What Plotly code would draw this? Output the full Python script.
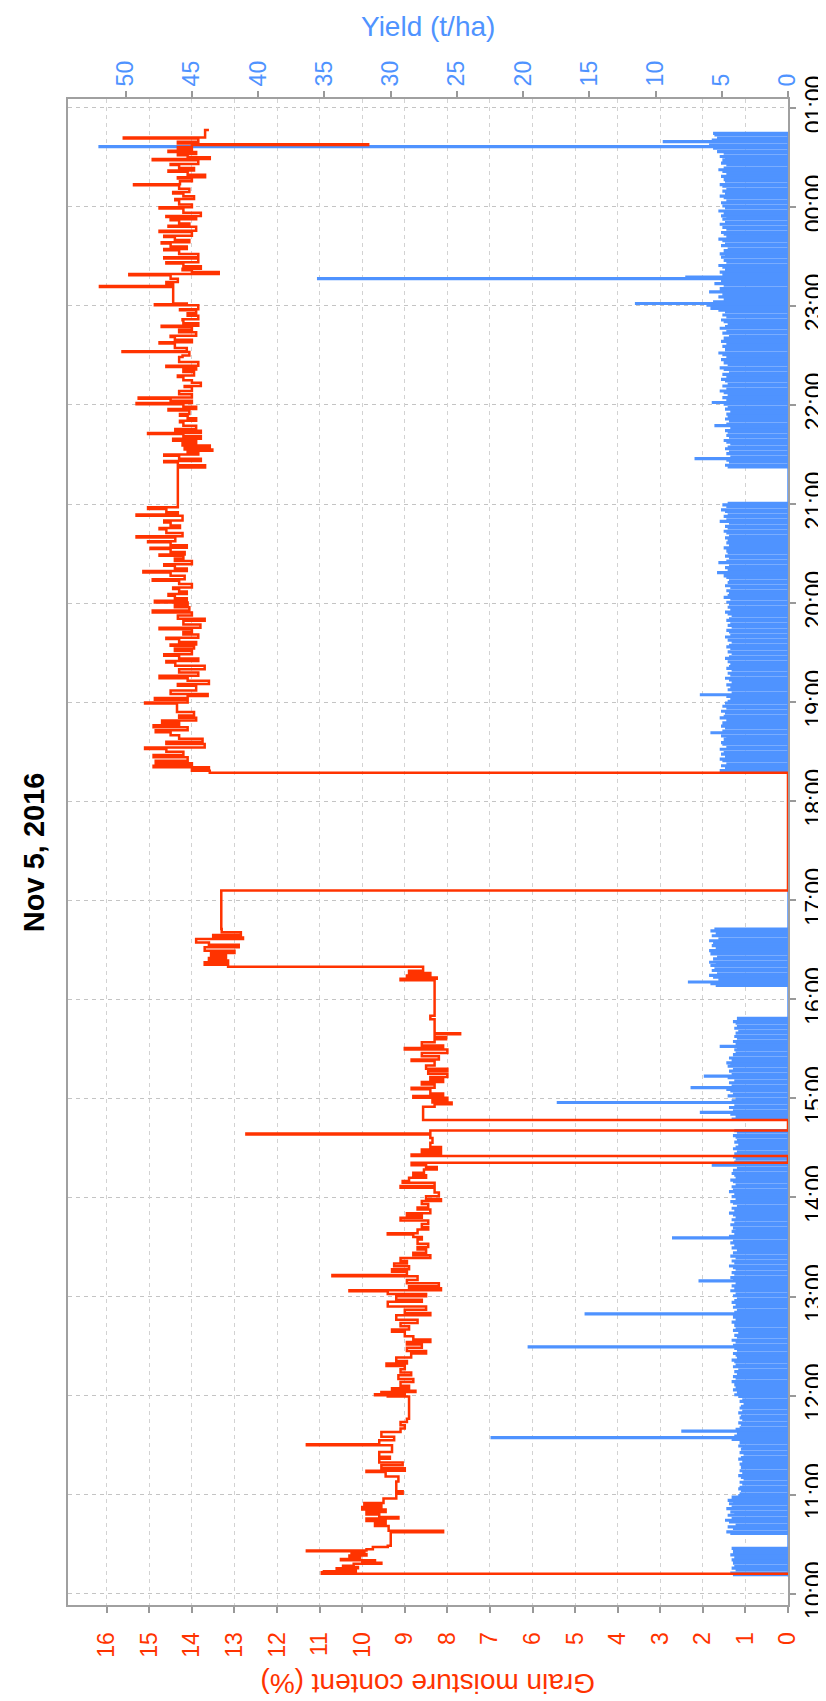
import pandas as pd
import plotly.graph_objects as go

BASE = pd.Timestamp("2016-11-05 10:00:00")

# ---------------- Grain moisture content (%) : (minutes after 10:00, value) ----------------
moisture_1000_1300 = [
    (11.5, 0.0), (12.1, 10.95), (13.0, 10.9), (13.6, 10.15), (14.5, 10.6), (15.5, 10.1), (16.2, 10.45),
    (17.0, 10.2), (18.2, 9.55), (18.8, 10.0), (19.5, 9.7), (20.2, 10.5), (21.0, 10.05), (22.0, 10.3),
    (23.2, 9.9), (24.0, 10.25), (25.0, 9.95), (25.7, 11.3), (26.2, 9.9), (27.0, 9.75), (28.3, 9.4),
    (29.0, 9.33), (37.2, 8.1), (38.2, 9.38), (41.0, 9.7), (42.5, 9.45), (44.0, 9.9), (45.5, 9.15),
    (46.5, 9.6), (48.0, 9.9), (49.5, 9.45), (51.0, 10.0), (52.5, 9.55), (53.5, 9.95), (55.0, 9.5),
    (57.6, 9.2), (60.6, 9.05), (62.0, 9.2), (68.0, 9.15), (71.0, 9.45), (73.7, 9.9), (74.5, 9.0),
    (76.0, 9.55), (77.8, 9.05), (79.5, 9.6), (81.8, 9.35), (83.0, 9.6), (85.9, 9.3), (89.9, 11.3),
    (90.5, 9.6), (92.9, 9.25), (95.0, 9.55), (98.0, 9.1), (100.0, 9.0), (102.0, 9.1), (104.0, 8.95),
    (106.0, 8.9), (119.5, 9.4), (120.2, 9.7), (120.8, 9.0), (121.5, 9.55), (122.2, 8.75), (123.0, 9.3),
    (124.5, 8.9), (126.0, 9.1), (128.3, 8.8), (130.0, 9.15), (132.3, 8.85), (134.0, 9.1), (136.0, 9.0),
    (138.0, 9.43), (139.4, 8.95), (141.0, 9.2), (143.0, 8.85), (145.5, 8.5), (147.0, 8.95), (149.0, 8.6),
    (151.0, 8.95), (152.5, 8.4), (154.0, 8.8), (156.0, 9.0), (158.6, 9.3), (160.0, 8.9), (162.0, 9.1),
    (164.0, 8.7), (166.0, 9.2), (168.7, 8.4), (170.0, 9.0), (172.0, 8.5), (174.0, 9.4), (176.8, 8.6),
    (178.0, 9.2),
]
moisture_1300_1600 = [
    (180.2, 8.5), (181.5, 9.4), (183.2, 10.3), (183.8, 8.15), (185.0, 8.9), (186.3, 8.2), (188.0, 8.95),
    (190.0, 8.7), (192.3, 10.7), (193.0, 8.95), (195.0, 9.3), (196.5, 8.9), (198.4, 9.25), (200.0, 8.95),
    (201.5, 9.1), (203.4, 8.4), (205.0, 8.8), (206.5, 8.5), (208.5, 8.7), (210.0, 8.45), (212.0, 8.7),
    (214.5, 8.6), (216.0, 8.8), (217.6, 9.4), (218.3, 8.7), (220.6, 8.45), (222.0, 8.6), (224.0, 8.45),
    (226.0, 9.1), (227.7, 8.6), (229.0, 8.95), (230.5, 8.4), (232.7, 8.7), (234.0, 8.45), (236.0, 8.6),
    (237.8, 8.15), (239.0, 8.5), (240.8, 8.2), (243.0, 8.3), (245.9, 9.1), (247.0, 8.3), (248.9, 9.05),
    (250.0, 8.9), (251.9, 8.5), (253.5, 8.8), (255.0, 8.55), (257.0, 8.25), (258.5, 8.5), (259.5, 8.84),
    (261.0, 0.0), (265.1, 8.84), (266.1, 8.15), (267.5, 8.6), (269.1, 8.15), (270.5, 8.4), (273.1, 8.35),
    (276.0, 8.4), (278.2, 12.72), (278.8, 8.4), (280.6, 0.0), (286.9, 8.57), (295.0, 8.3), (296.4, 7.9),
    (297.5, 8.35), (299.0, 8.0), (300.4, 8.8), (301.5, 8.1), (303.0, 8.4), (305.5, 8.84), (306.5, 8.3),
    (308.5, 8.6), (310.0, 8.1), (311.5, 8.4), (313.0, 8.0), (315.0, 8.45), (316.6, 8.0), (318.0, 8.5),
    (320.0, 8.3), (322.6, 8.84), (323.5, 8.2), (325.5, 8.6), (327.5, 8.0), (329.7, 9.0), (330.5, 8.1),
    (332.0, 8.6), (334.0, 8.3), (335.8, 8.03), (337.0, 8.3), (338.8, 7.7), (339.5, 8.3), (348.0, 8.4),
    (350.0, 8.3),
]
moisture_1600_1900 = [
    (371.5, 9.1), (372.5, 8.25), (373.3, 8.95), (374.5, 8.4), (376.0, 8.9), (377.4, 8.57), (379.8, 13.15),
    (381.0, 13.7), (382.4, 13.15), (383.5, 13.6), (385.0, 13.2), (386.5, 13.55), (388.0, 13.0), (389.5, 13.7),
    (391.5, 12.9), (393.0, 13.6), (394.5, 13.9), (396.6, 12.8), (397.5, 13.5), (399.0, 12.85), (400.6, 13.3),
    (402.6, 13.31), (425.9, 0.0), (497.2, 13.58), (498.5, 14.0), (499.6, 13.6), (500.6, 14.9), (501.5, 14.0),
    (503.0, 14.85), (504.5, 14.1), (506.7, 14.9), (508.0, 14.2), (510.0, 14.6), (511.7, 15.1), (512.5, 13.7),
    (514.7, 14.6), (516.0, 13.75), (517.8, 14.3), (520.0, 14.5), (521.8, 14.85), (523.0, 14.1), (524.8, 14.9),
    (526.0, 14.3), (527.5, 14.7), (528.9, 13.9), (530.5, 14.3), (531.9, 13.95), (534.0, 14.35),
    (539.2, 15.1), (539.8, 14.1),
]
moisture_1900_2200 = [
    (541.5, 14.87), (542.5, 14.1), (543.8, 13.63), (545.0, 14.5), (547.0, 13.9), (549.9, 14.33), (551.0, 13.6),
    (553.0, 14.1), (554.5, 14.76), (556.0, 13.85), (558.0, 14.3), (560.0, 13.7), (562.0, 14.39), (564.0, 14.6),
    (565.0, 13.85), (566.5, 14.3), (568.1, 14.65), (569.0, 14.0), (571.0, 14.4), (572.5, 13.95), (574.1, 14.5),
    (575.0, 13.9), (576.5, 14.3), (578.2, 14.6), (579.0, 13.85), (581.0, 14.2), (582.5, 14.0), (584.2, 14.76),
    (585.0, 13.8), (587.0, 14.2), (589.3, 13.7), (590.5, 14.33), (592.5, 14.0), (594.3, 14.92), (595.5, 14.06),
    (597.5, 14.4), (599.0, 14.1), (600.4, 14.87), (601.5, 14.12), (603.0, 14.4), (604.4, 14.55), (605.5, 14.12),
    (607.0, 14.3), (608.5, 14.44), (609.5, 14.0), (611.5, 14.3), (613.5, 14.92), (614.5, 14.17), (616.5, 14.5),
    (618.6, 15.14), (619.5, 14.12), (621.0, 14.4), (622.6, 14.65), (623.5, 14.0), (625.5, 14.4), (627.0, 14.2),
    (628.7, 14.76), (629.5, 14.17), (631.0, 14.5), (632.7, 14.97), (633.5, 14.12), (635.0, 14.5), (636.8, 15.03),
    (637.5, 14.39), (639.8, 15.3), (640.5, 14.22), (642.5, 14.6), (644.8, 14.76), (645.5, 14.28), (647.0, 14.5),
    (648.9, 14.65), (650.0, 14.22), (652.9, 15.3), (653.6, 14.33), (655.0, 14.6), (657.0, 15.03), (658.0, 14.33),
    (682.2, 13.69), (683.5, 14.33), (685.3, 14.65), (686.0, 13.79), (687.5, 14.3), (689.3, 14.65), (690.0, 13.85),
    (691.0, 14.1), (692.3, 13.52), (693.0, 14.17), (694.3, 13.58), (695.5, 14.22), (697.0, 13.9), (698.4, 14.44),
    (699.5, 13.79), (701.0, 14.2), (702.4, 15.03), (703.0, 13.79), (704.4, 14.39), (705.5, 13.9), (707.5, 14.2),
    (709.5, 14.28), (710.5, 13.9), (712.0, 14.1), (713.5, 14.28), (714.5, 14.06), (716.6, 14.55), (717.5, 13.9),
    (719.0, 14.2),
]
moisture_2200_0100 = [
    (720.5, 15.3), (721.2, 14.0), (722.5, 14.5), (723.8, 15.25), (724.5, 14.0), (726.5, 14.3), (728.5, 14.0),
    (730.9, 14.17), (731.5, 13.79), (733.5, 14.0), (735.0, 14.2), (737.0, 14.33), (737.8, 13.95), (740.0, 14.2),
    (741.5, 13.9), (743.0, 14.6), (743.8, 13.85), (746.0, 14.3), (749.1, 14.22), (750.0, 14.06), (752.1, 15.63),
    (752.6, 14.12), (754.5, 14.4), (757.2, 14.76), (758.0, 14.0), (759.5, 14.4), (761.2, 14.5), (762.0, 13.9),
    (764.0, 14.3), (765.5, 14.0), (767.3, 14.71), (768.0, 13.85), (769.5, 14.2), (771.3, 14.22), (772.0, 13.85),
    (774.0, 14.1), (775.5, 13.9), (777.4, 14.28), (778.0, 13.85), (780.4, 14.87), (781.0, 14.12), (781.4, 14.44),
    (791.5, 16.16), (792.0, 14.44), (793.5, 14.6), (794.5, 14.33), (796.5, 14.5), (798.6, 15.47), (799.3, 13.37),
    (800.5, 14.0), (801.6, 14.22), (802.5, 13.79), (804.0, 14.2), (805.7, 14.6), (806.5, 13.85), (808.7, 14.65),
    (809.5, 13.85), (811.5, 14.3), (813.7, 14.65), (814.5, 14.12), (816.0, 14.5), (817.8, 14.71), (818.5, 14.06),
    (820.0, 14.4), (821.8, 14.65), (822.5, 14.0), (824.8, 14.76), (825.5, 13.9), (827.9, 14.55), (828.5, 14.06),
    (830.0, 14.3), (831.9, 14.5), (832.5, 13.9), (833.9, 14.6), (834.5, 13.79), (836.5, 14.2), (839.0, 14.76),
    (839.7, 14.0), (841.5, 14.3), (844.0, 14.39), (844.8, 13.95), (846.5, 14.2), (848.1, 14.44), (849.0, 14.06),
    (851.0, 14.3), (853.1, 15.36), (853.7, 14.28), (855.5, 14.0), (857.2, 14.33), (858.0, 13.69), (859.5, 14.1),
    (861.2, 14.55), (862.0, 13.95), (863.5, 14.3), (865.3, 14.5), (866.0, 13.85), (868.3, 14.92), (869.0, 13.58),
    (870.0, 14.1), (871.3, 14.33), (872.0, 13.9), (873.3, 14.55), (874.0, 14.0), (875.4, 14.33), (876.2, 14.0),
    (877.4, 9.86), (877.9, 13.85), (878.4, 14.33), (879.5, 13.85), (881.4, 15.6), (882.0, 13.69), (883.4, 13.69),
    (886.5, 13.6),
]

# ---------------- Yield (t/ha) : one value per minute, blocks start at given minute after 10:00 ----------------
yield_start_minutes = [11, 36, 287, 368, 497, 682]
yield_1011 = [4.1, 4.3, 0, 3.9, 4.2, 4.0, 0, 4.1, 3.8, 4.2, 0, 4.0, 4.3, 0, 4.1, 3.9, 4.2, 0]
yield_1036 = [
    4.3, 4.6, 0, 4.1, 4.5, 3.9, 0, 4.4, 4.7, 4.2,
    0, 4.5, 4.0, 4.3, 0, 4.6, 4.2, 0, 4.4, 4.1,
    4.5, 0, 4.2, 3.7, 3.6, 0, 3.5, 3.7, 3.6, 0,
    3.4, 3.6, 0, 3.3, 3.5, 3.7, 0, 3.4, 3.6, 0,
    3.5, 3.3, 3.6, 0, 3.4, 3.7, 3.5, 0, 3.3, 3.6,
    0, 3.5, 3.4, 3.7, 0, 3.6, 3.3, 4.2, 22.4, 4.0,
    3.8, 0, 8.0, 3.9, 3.6, 0, 3.5, 3.7, 0, 3.4,
    3.6, 3.5, 0, 3.7, 3.4, 0, 3.6, 3.5, 3.3, 0,
    3.6, 3.4, 0, 3.7, 4.0, 3.8, 0, 4.1, 3.9, 0,
    4.0, 3.7, 4.2, 0, 3.9, 4.1, 0, 3.8, 4.0, 3.7,
    0, 4.1, 3.9, 0, 4.0, 4.2, 3.8, 0, 3.9, 4.1,
    0, 3.8, 4.0, 19.6, 4.1, 0, 3.9, 4.2, 0, 3.8,
    4.0, 3.7, 0, 4.1, 3.9, 0, 4.0, 3.8, 4.2, 0,
    3.9, 4.1, 0, 15.3, 4.0, 3.8, 0, 4.1, 3.9, 0,
    4.2, 4.0, 3.8, 0, 4.1, 3.9, 0, 4.3, 4.0, 0,
    4.2, 3.9, 0, 6.7, 4.1, 4.3, 0, 4.0, 4.2, 0,
    3.9, 4.1, 4.4, 0, 4.0, 4.2, 0, 3.9, 4.3, 0,
    4.1, 3.8, 0, 4.2, 4.0, 0, 4.3, 4.1, 0, 8.7,
    4.4, 4.0, 0, 4.2, 3.9, 4.1, 0, 4.3, 4.0, 0,
    4.2, 3.9, 0, 4.1, 4.4, 0, 4.0, 4.2, 3.8, 0,
    4.1, 4.3, 0, 3.9, 4.2, 0, 4.0, 4.4, 4.1, 0,
    4.2, 3.9, 0, 4.1, 4.3, 0, 3.9, 4.0, 4.2, 0,
    4.1, 3.8, 0, 5.7, 4.2, 4.0, 0, 3.9, 4.1, 0,
    4.0, 3.8, 0, 4.1, 3.9, 0, 3.7, 4.0, 3.8, 0,
    3.9, 4.1, 0, 3.8, 4.0,
]
yield_1447 = [
    4.2, 3.9, 0, 4.3, 6.6, 4.1, 0, 4.4, 4.0, 0,
    17.4, 4.2, 3.9, 0, 4.5, 4.1, 0, 4.3, 4.6, 7.3,
    4.2, 0, 4.4, 4.0, 0, 4.5, 6.3, 4.2, 0, 4.4,
    4.1, 0, 4.5, 4.3, 4.6, 0, 4.2, 4.4, 0, 4.1,
    3.9, 0, 4.0, 3.8, 5.1, 0, 3.9, 4.1, 0, 3.8,
    4.0, 0, 3.9, 3.7, 0, 4.0, 3.8, 0, 3.9, 4.1,
    0, 3.8,
]
yield_1608 = [
    5.4, 5.8, 7.5, 5.2, 0, 5.6, 5.9, 5.3, 0, 5.7,
    5.5, 0, 5.8, 5.4, 5.9, 0, 5.6, 5.3, 0, 5.8,
    5.5, 5.9, 0, 5.4, 5.7, 0, 5.6, 5.9, 5.2, 0,
    5.7, 5.4, 0, 5.8, 5.5,
]
yield_1817 = [
    4.8, 5.1, 0, 4.7, 5.0, 4.6, 0, 4.9, 5.1, 0,
    4.7, 5.0, 4.8, 0, 5.1, 4.6, 0, 4.9, 5.0, 0,
    4.8, 4.6, 5.0, 0, 5.8, 4.9, 0, 4.7, 5.0, 0,
    4.9, 4.6, 0, 5.1, 4.8, 0, 4.7, 5.0, 0, 4.6,
    4.9, 0, 4.7, 4.5, 4.3, 0, 4.6, 6.6, 4.2, 0,
    4.5, 4.3, 0, 4.6, 4.2, 0, 4.4, 4.7, 0, 4.3,
    4.5, 0, 4.2, 4.6, 4.4, 0, 4.3, 4.5, 0, 4.7,
    4.4, 0, 4.2, 4.5, 0, 4.3, 4.6, 4.4, 0, 4.2,
    4.5, 0, 4.7, 4.3, 0, 4.4, 4.6, 0, 4.2, 4.5,
    4.3, 0, 4.6, 4.4, 0, 4.2, 4.5, 4.7, 0, 4.3,
    4.5, 0, 4.4, 4.6, 0, 4.3, 4.8, 4.5, 0, 4.4,
    4.6, 0, 4.3, 4.7, 0, 4.5, 4.4, 0, 4.6, 4.8,
    0, 5.3, 4.5, 0, 4.7, 4.4, 0, 5.2, 4.6, 0,
    4.4, 4.7, 0, 4.5, 4.6, 0, 4.8, 4.4, 0, 4.6,
    4.5, 0, 4.7, 4.4, 0, 4.6, 4.8, 0, 4.5, 4.7,
    0, 4.4, 5.1, 4.6, 0, 4.8, 4.5, 0, 4.7, 5.0,
    0, 4.6, 4.9, 4.5,
]
yield_2122 = [
    4.5, 4.7, 0, 4.4, 4.6, 7.0, 4.3, 0, 4.6, 4.4,
    0, 4.7, 4.5, 0, 4.3, 4.6, 4.8, 0, 4.4, 4.6,
    0, 4.5, 4.7, 4.3, 0, 5.5, 4.6, 0, 4.4, 4.7,
    4.5, 0, 4.6, 4.3, 0, 4.7, 4.5, 0, 4.8, 5.7,
    4.6, 0, 4.9, 4.5, 0, 4.8, 5.1, 4.6, 0, 4.9,
    4.5, 0, 4.7, 5.0, 0, 4.6, 4.9, 4.4, 0, 4.8,
    5.1, 0, 4.5, 4.8, 0, 5.0, 4.6, 0, 4.9, 5.2,
    0, 4.7, 4.5, 4.9, 0, 4.6, 5.0, 0, 4.8, 4.4,
    0, 4.9, 4.6, 0, 5.1, 4.7, 4.5, 0, 4.8, 5.0,
    0, 4.6, 4.9, 0, 4.7, 5.2, 5.8, 0, 6.1, 11.5,
    5.6, 4.8, 0, 5.2, 4.9, 0, 5.9, 4.7, 5.1, 0,
    4.8, 5.5, 0, 5.0, 35.5, 7.7, 4.9, 0, 5.1, 4.7,
    0, 4.9, 5.2, 0, 4.6, 4.8, 0, 5.0, 4.7, 5.1,
    0, 4.8, 4.5, 0, 5.0, 4.7, 0, 4.9, 5.2, 4.6,
    0, 4.8, 5.0, 0, 4.6, 4.9, 0, 5.1, 4.7, 0,
    4.9, 4.6, 5.0, 0, 4.8, 5.2, 0, 4.7, 4.9, 0,
    5.0, 4.6, 0, 4.8, 5.1, 0, 4.7, 4.9, 4.6, 0,
    4.9, 5.1, 0, 4.7, 4.8, 0, 5.0, 4.6, 0, 4.9,
    5.2, 4.8, 0, 4.6, 5.0, 0, 4.9, 4.7, 5.1, 0,
    4.8, 5.3, 0, 5.6, 52.0, 5.9, 0, 9.4, 5.7, 5.3,
    0, 5.5, 5.6,
]
yield_blocks = [yield_1011, yield_1036, yield_1447, yield_1608, yield_1817, yield_2122]

time_ticks = ["10:00", "11:00", "12:00", "13:00", "14:00", "15:00", "16:00", "17:00",
              "18:00", "19:00", "20:00", "21:00", "22:00", "23:00", "00:00", "01:00"]

RED = "#ff3300"
BLUE = "#4f93ff"
FONT = "Liberation Sans, Arial, sans-serif"


def to_time(minutes):
    return [(BASE + pd.Timedelta(minutes=float(m))).strftime("%Y-%m-%d %H:%M:%S") for m in minutes]


# assemble moisture series
m_pts = moisture_1000_1300 + moisture_1300_1600 + moisture_1600_1900 + moisture_1900_2200 + moisture_2200_0100
m_t = [p[0] for p in m_pts]
m_v = [p[1] for p in m_pts]

# assemble yield series
y_t, y_v = [10.5], [0.0]
for start, vals in zip(yield_start_minutes, yield_blocks):
    for i, v in enumerate(vals):
        y_t.append(start + i)
        y_v.append(v)
    y_t.append(start + len(vals))
    y_v.append(0.0)

fig = go.Figure()
fig.add_trace(go.Scatter(
    x=y_v, y=to_time(y_t), xaxis="x", yaxis="y", mode="lines",
    line=dict(color=BLUE, width=1.5, shape="vh"), fill="tozerox", fillcolor=BLUE,
    name="Yield", showlegend=False, hoverinfo="skip"))
fig.add_trace(go.Scatter(
    x=m_v, y=to_time(m_t), xaxis="x2", yaxis="y", mode="lines",
    line=dict(color=RED, width=2.5, shape="vh"),
    name="Grain moisture", showlegend=False, hoverinfo="skip"))

tick_vals = [(BASE + pd.Timedelta(hours=h)).strftime("%Y-%m-%d %H:%M:%S") for h in range(len(time_ticks))]

fig.update_layout(
    width=826, height=1701,
    margin=dict(l=60, r=46, t=91, b=104),
    paper_bgcolor="white", plot_bgcolor="white",
    font=dict(family=FONT, size=23, color="black"),
    xaxis=dict(  # yield, top
        side="top", anchor="y", range=[54.35, 0], dtick=5, tick0=0,
        tickangle=-90, tickfont=dict(color=BLUE, size=23),
        ticks="outside", ticklen=6, tickcolor="#999999", tickwidth=1.5,
        showline=True, linecolor="#a0a0a0", linewidth=2,
        showgrid=False, zeroline=False, automargin=False,
    ),
    xaxis2=dict(  # moisture, bottom
        side="bottom", anchor="y", overlaying="x", range=[16.91, 0], dtick=1, tick0=0,
        tickangle=-90, tickfont=dict(color=RED, size=23),
        ticks="outside", ticklen=6, tickcolor="#999999", tickwidth=1.5,
        showline=True, linecolor="#a0a0a0", linewidth=2,
        showgrid=True, gridcolor="#d2d2d2", gridwidth=1, griddash="4px,4px",
        zeroline=False, automargin=False, ticklabelstandoff=10,
    ),
    yaxis=dict(
        side="right", anchor="x", type="date",
        range=["2016-11-05 09:53:10", "2016-11-06 01:05:20"],
        tickvals=tick_vals, ticktext=time_ticks,
        tickangle=-90, tickfont=dict(color="black", size=23),
        ticks="outside", ticklen=6, tickcolor="#999999", tickwidth=1.5,
        showline=True, mirror=True, linecolor="#a0a0a0", linewidth=2,
        showgrid=True, gridcolor="#c4c4c4", gridwidth=1, griddash="4px,4px",
        zeroline=False, automargin=False, ticklabelstandoff=-2,
    ),
    annotations=[
        dict(text="<b>Nov 5, 2016</b>", xref="paper", yref="paper", x=-0.047, y=0.5,
             textangle=-90, showarrow=False, xanchor="center", yanchor="middle",
             font=dict(family=FONT, size=29, color="black")),
        dict(text="Grain moisture content (%)", xref="paper", yref="paper", x=0.5, y=-0.052,
             textangle=180, showarrow=False, xanchor="center", yanchor="middle",
             font=dict(family=FONT, size=28, color=RED)),
        dict(text="Yield (t/ha)", xref="paper", yref="paper", x=0.5, y=1.048,
             textangle=0, showarrow=False, xanchor="center", yanchor="middle",
             font=dict(family=FONT, size=28, color=BLUE)),
    ],
)

fig.write_html("out.html")
